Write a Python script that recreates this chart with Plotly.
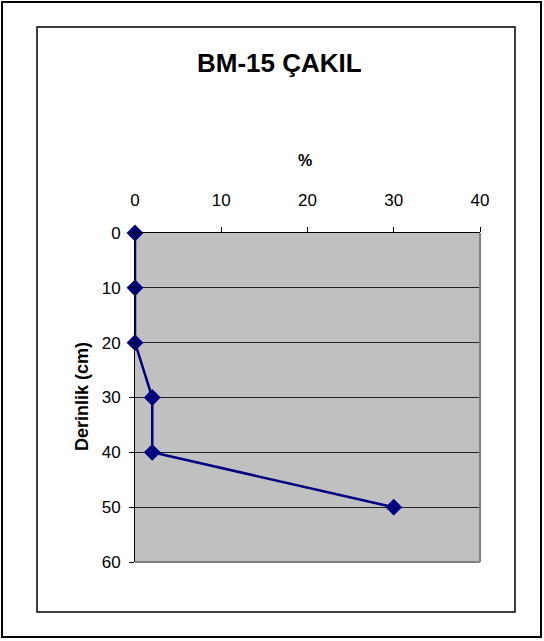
import plotly.graph_objects as go

depth = [0, 10, 20, 30, 40, 50]
percent = [0, 0, 0, 2, 2, 30]
x_ticks = [0, 10, 20, 30, 40]
y_ticks = [0, 10, 20, 30, 40, 50, 60]
title_text = "BM-15 ÇAKIL"
x_title = "%"
y_title = "Derinlik (cm)"

W, H = 544, 641
L, R, T, B = 135, 480, 233, 562

def px(x):
    return (x - L) / (R - L)

def py(y):
    return (B - y) / (B - T)

FONT = "Arial, Liberation Sans, sans-serif"

fig = go.Figure()
fig.add_trace(go.Scatter(
    x=percent, y=depth, mode="lines+markers",
    line=dict(color="#000080", width=2.5),
    marker=dict(symbol="diamond", size=13, color="#000080"),
    cliponaxis=False, showlegend=False,
))

fig.update_layout(
    width=W, height=H,
    margin=dict(l=L, r=W - R, t=T, b=H - B, pad=0),
    paper_bgcolor="white", plot_bgcolor="#C0C0C0",
    font=dict(family=FONT, color="black"),
    xaxis=dict(side="top", range=[0, 40], tickvals=x_ticks, ticks="outside",
               ticklen=5, tickcolor="black", showline=True, linecolor="black",
               linewidth=1, showgrid=False, zeroline=False,
               tickfont=dict(size=17, family=FONT), ticklabelstandoff=14),
    yaxis=dict(range=[60, 0], tickvals=y_ticks, ticks="outside", ticklen=5,
               tickcolor="black", showline=True, linecolor="black", linewidth=1,
               showgrid=True, gridcolor="#222222", gridwidth=1, zeroline=False,
               tickfont=dict(size=17, family=FONT), ticklabelstandoff=5),
)

shapes = []
# outer border
shapes.append(dict(type="rect", xref="paper", yref="paper",
                   x0=px(2), x1=px(541), y0=py(2), y1=py(637),
                   line=dict(color="black", width=2)))
# inner box
shapes.append(dict(type="rect", xref="paper", yref="paper",
                   x0=px(37), x1=px(515), y0=py(27), y1=py(612),
                   line=dict(color="black", width=1.5)))
# gray right & bottom plot border
shapes.append(dict(type="line", xref="paper", yref="paper",
                   x0=1, x1=1, y0=0, y1=1, line=dict(color="#808080", width=2)))
shapes.append(dict(type="line", xref="paper", yref="paper",
                   x0=0, x1=1, y0=0, y1=0, line=dict(color="#808080", width=2)))
fig.update_layout(shapes=shapes)

fig.add_annotation(text="<b>" + title_text + "</b>", xref="paper", yref="paper",
                   x=px(279), y=py(63), showarrow=False,
                   font=dict(size=26, family=FONT), xanchor="center", yanchor="middle")
fig.add_annotation(text="<b>" + x_title + "</b>", xref="paper", yref="paper",
                   x=px(305), y=py(160), showarrow=False,
                   font=dict(size=16, family=FONT), xanchor="center", yanchor="middle")
fig.add_annotation(text="<b>" + y_title + "</b>", xref="paper", yref="paper",
                   x=px(82), y=py(397), showarrow=False, textangle=-90,
                   font=dict(size=18, family=FONT), xanchor="center", yanchor="middle")

fig.write_html("out.html", config={"displayModeBar": False},
               post_script="document.body.style.margin='0';document.body.style.overflow='hidden';")
